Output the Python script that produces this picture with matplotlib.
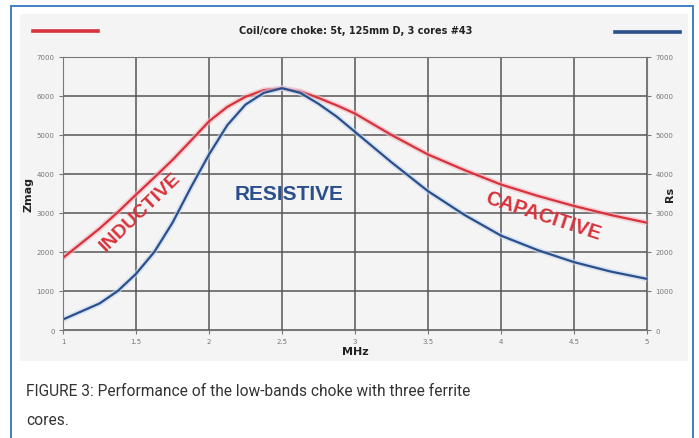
import numpy as np
import matplotlib.pyplot as plt
from matplotlib.patches import Rectangle

# frequency in MHz, impedance in ohms
freq = [1.0, 1.25, 1.375, 1.5, 1.625, 1.75, 1.875, 2.0, 2.125, 2.25, 2.375, 2.5,
        2.625, 2.75, 2.875, 3.0, 3.25, 3.5, 3.75, 4.0, 4.25, 4.5, 4.75, 5.0]
zmag = [1850, 2600, 3020, 3470, 3910, 4360, 4850, 5350, 5720, 5980, 6150, 6200,
        6120, 5950, 5760, 5550, 5000, 4500, 4100, 3730, 3440, 3180, 2950, 2750]
rs = [270, 680, 1000, 1440, 2000, 2750, 3650, 4500, 5250, 5780, 6080, 6200,
      6080, 5800, 5470, 5080, 4300, 3560, 2950, 2420, 2050, 1740, 1500, 1310]

xticks = [1, 1.5, 2, 2.5, 3, 3.5, 4, 4.5, 5]
xtick_labels = ["1", "1.5", "2", "2.5", "3", "3.5", "4", "4.5", "5"]
yticks = [0, 1000, 2000, 3000, 4000, 5000, 6000, 7000]

title = "Coil/core choke: 5t, 125mm D, 3 cores #43"
caption1 = "FIGURE 3: Performance of the low-bands choke with three ferrite"
caption2 = "cores."

red = "#d8323c"
blue = "#2b4f8c"
W, H = 699, 439

fig = plt.figure(figsize=(W / 100, H / 100), dpi=100)
fig.patch.set_facecolor("white")

# outer blue frame and grey chart panel (pixel boxes -> figure fractions)
def box(x0, y0, x1, y1, **kw):
    r = Rectangle((x0 / W, 1 - y1 / H), (x1 - x0) / W, (y1 - y0) / H,
                  transform=fig.transFigure, zorder=-5, **kw)
    fig.patches.append(r)

box(11, 7, 693, 460, facecolor="white", edgecolor="#3f7fc3", lw=1.4)
box(20, 15, 688, 362, facecolor="#f4f4f4", edgecolor="none")

ax = fig.add_axes([63 / W, 1 - 331 / H, (647 - 63) / W, (331 - 58) / H])
ax.set_facecolor("#f4f4f4")

ax.plot(freq, zmag, color="#f4b8c0", lw=4, alpha=0.6, solid_capstyle="round")
ax.plot(freq, zmag, color=red, lw=1.6)
ax.plot(freq, rs, color="#c8d8ee", lw=4, alpha=0.6, solid_capstyle="round")
ax.plot(freq, rs, color=blue, lw=1.6)

ax.set_xlim(1, 5)
ax.set_ylim(0, 7000)
ax.set_xticks(xticks)
ax.set_xticklabels(xtick_labels)
ax.set_yticks(yticks)
ax.grid(True, color="#555555", lw=1.1)
ax.set_axisbelow(True)
ax.tick_params(labelsize=5, colors="#777777", length=3, width=0.8, pad=3)
for s in ax.spines.values():
    s.set_color("#777777")
    s.set_linewidth(0.8)

ax.set_xlabel("MHz", fontsize=8, fontweight="bold", color="#222222", labelpad=1)
ax.set_ylabel("Zmag", fontsize=8, fontweight="bold", color="#222222", labelpad=2)

ax2 = ax.twinx()
ax2.set_ylim(0, 7000)
ax2.set_yticks(yticks)
ax2.tick_params(labelsize=5, colors="#777777", length=3, width=0.8, pad=3)
for s in ax2.spines.values():
    s.set_visible(False)
ax2.set_ylabel("Rs", fontsize=8, fontweight="bold", color="#222222")
ax2.yaxis.set_label_coords(1.03, 0.5)

# region labels
lab = dict(fontweight="bold", family="Liberation Sans", ha="center", va="center")
ax.text(1.53, 3050, "INDUCTIVE", color=red, fontsize=14, rotation=44, **lab)
ax.text(2.55, 3490, "RESISTIVE", color=blue, fontsize=15, **lab)
ax.text(4.29, 2950, "CAPACITIVE", color=red, fontsize=14.5, rotation=-18, **lab)

# title and legend strokes
fig.text(356 / W, 1 - 31 / H, title, fontsize=7, fontweight="bold",
         color="#222222", ha="center", va="center")
fig.lines.append(plt.Line2D([33 / W, 98 / W], [1 - 32 / H, 1 - 32 / H],
                            transform=fig.transFigure, color=red, lw=2.6))
fig.lines.append(plt.Line2D([615 / W, 680 / W], [1 - 33 / H, 1 - 33 / H],
                            transform=fig.transFigure, color=blue, lw=2.6))

fig.text(26 / W, 1 - 392 / H, caption1, fontsize=11.2, family="Roboto",
         color="#333333", ha="left", va="center")
fig.text(26 / W, 1 - 421 / H, caption2, fontsize=11.2, family="Roboto",
         color="#333333", ha="left", va="center")

fig.savefig("out.png", dpi=100)
